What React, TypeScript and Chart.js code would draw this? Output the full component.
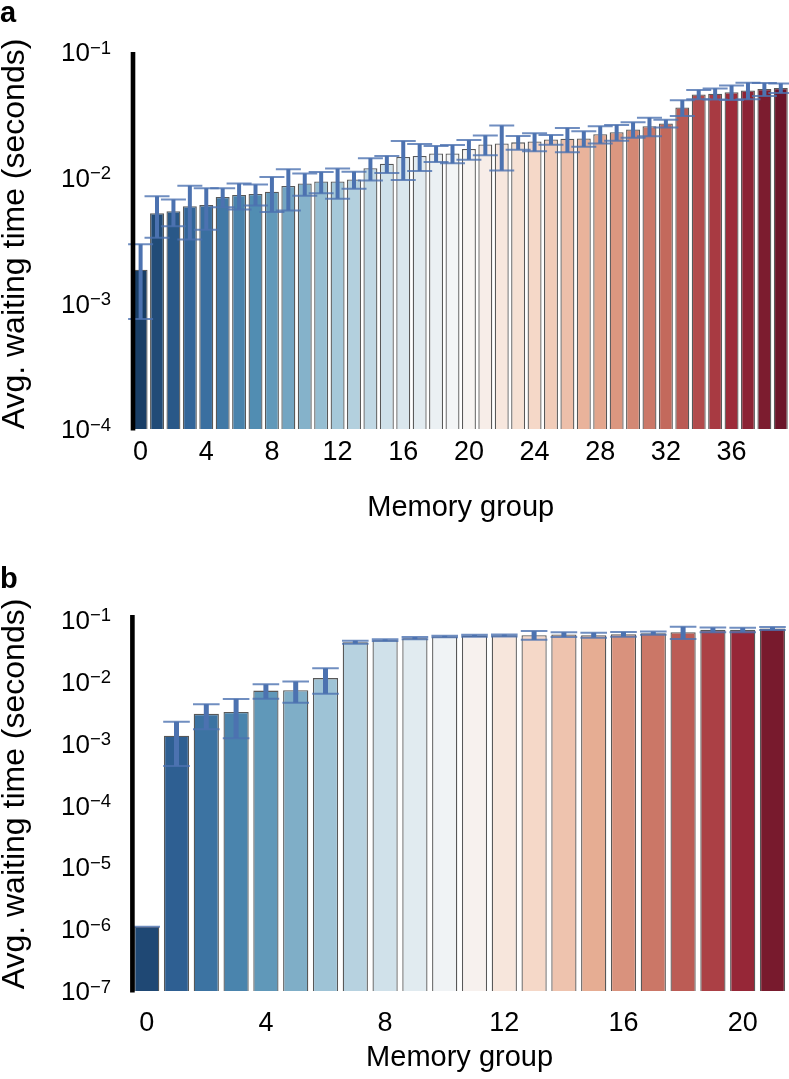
import React, { useEffect, useRef } from 'react';
import { Chart, registerables } from 'chart.js';

Chart.register(...registerables);

// ---------- Data ----------
const groupsA = ['0','1','2','3','4','5','6','7','8','9','10','11','12','13','14','15','16','17','18','19','20','21','22','23','24','25','26','27','28','29','30','31','32','33','34','35','36','37','38','39'];
const waitA = [1.85e-3, 5.22e-3, 5.40e-3, 5.92e-3, 6.05e-3, 7.02e-3, 7.28e-3, 7.41e-3, 7.74e-3, 8.59e-3, 8.98e-3, 9.31e-3, 9.31e-3, 9.66e-3, 1.19e-2, 1.29e-2, 1.46e-2, 1.49e-2, 1.56e-2, 1.56e-2, 1.69e-2, 1.84e-2, 1.87e-2, 1.91e-2, 1.94e-2, 2.01e-2, 2.04e-2, 2.05e-2, 2.22e-2, 2.30e-2, 2.42e-2, 2.57e-2, 2.70e-2, 3.62e-2, 4.60e-2, 4.66e-2, 4.78e-2, 4.95e-2, 5.07e-2, 5.17e-2];
const errA = [1.1e-3, 1.9e-3, 1.3e-3, 2.7e-3, 2.2e-3, 1.2e-3, 1.7e-3, 1.4e-3, 2.4e-3, 3.1e-3, 1.8e-3, 1.8e-3, 2.5e-3, 1.5e-3, 2.4e-3, 2.0e-3, 5.0e-3, 3.6e-3, 2.3e-3, 2.6e-3, 3.0e-3, 3.3e-3, 7.3e-3, 2.4e-3, 3.2e-3, 1.8e-3, 4.5e-3, 2.9e-3, 3.5e-3, 3.3e-3, 3.4e-3, 4.3e-3, 1.9e-3, 5.2e-3, 3.9e-3, 4.7e-3, 6.3e-3, 7.5e-3, 6.0e-3, 4.5e-3];
const yTickExpA = [-4, -3, -2, -1];

const groupsB = ['0','1','2','3','4','5','6','7','8','9','10','11','12','13','14','15','16','17','18','19','20','21'];
const waitB = [1.09e-6, 1.33e-3, 2.99e-3, 3.21e-3, 7.10e-3, 7.21e-3, 1.13e-2, 4.30e-2, 4.63e-2, 4.99e-2, 5.30e-2, 5.44e-2, 5.50e-2, 5.58e-2, 5.70e-2, 5.58e-2, 5.78e-2, 6.01e-2, 6.24e-2, 6.79e-2, 6.79e-2, 7.13e-2];
const errB = [0, 9.0e-4, 1.3e-3, 2.0e-3, 1.85e-3, 2.7e-3, 5.0e-3, 2.5e-3, 1.5e-3, 2.0e-3, 1.5e-3, 2.0e-3, 2.0e-3, 9.0e-3, 5.0e-3, 5.0e-3, 5.0e-3, 3.5e-3, 1.4e-2, 6.0e-3, 5.5e-3, 4.0e-3];
const yTickExpB = [-7, -6, -5, -4, -3, -2, -1];

const xTitle = 'Memory group';
const yTitle = 'Avg. waiting time (seconds)';

// ---------- Colours (seaborn RdBu_r, saturation 0.75) ----------
const RDBU = ['#67001f', '#b2182b', '#d6604d', '#f4a582', '#fddbc7', '#f7f7f7', '#d1e5f0', '#92c5de', '#4393c3', '#2166ac', '#053061'];

function hexToRgb(h: string) {
  return [parseInt(h.slice(1, 3), 16) / 255, parseInt(h.slice(3, 5), 16) / 255, parseInt(h.slice(5, 7), 16) / 255];
}
function rdbuR(t: number) {
  const s = 1 - t;
  const pos = s * 10;
  const i = Math.min(9, Math.floor(pos));
  const f = pos - i;
  const a = hexToRgb(RDBU[i]);
  const b = hexToRgb(RDBU[i + 1]);
  return [a[0] + (b[0] - a[0]) * f, a[1] + (b[1] - a[1]) * f, a[2] + (b[2] - a[2]) * f];
}
function desat(rgb: number[], p: number) {
  const [r, g, b] = rgb;
  const mx = Math.max(r, g, b), mn = Math.min(r, g, b);
  const l = (mx + mn) / 2;
  if (mx === mn) return rgb;
  const d = mx - mn;
  let s = l <= 0.5 ? d / (mx + mn) : d / (2 - mx - mn);
  let h: number;
  if (mx === r) h = ((g - b) / d) % 6;
  else if (mx === g) h = (b - r) / d + 2;
  else h = (r - g) / d + 4;
  h /= 6;
  if (h < 0) h += 1;
  s *= p;
  const q = l <= 0.5 ? l * (1 + s) : l + s - l * s;
  const pp = 2 * l - q;
  const hue = (t: number) => {
    if (t < 0) t += 1;
    if (t > 1) t -= 1;
    if (t < 1 / 6) return pp + (q - pp) * 6 * t;
    if (t < 1 / 2) return q;
    if (t < 2 / 3) return pp + (q - pp) * (2 / 3 - t) * 6;
    return pp;
  };
  return [hue(h + 1 / 3), hue(h), hue(h - 1 / 3)];
}
function palette(n: number) {
  const out: string[] = [];
  for (let k = 1; k <= n; k++) {
    const c = desat(rdbuR(k / (n + 1)), 0.75);
    out.push(`rgb(${Math.round(c[0] * 255)},${Math.round(c[1] * 255)},${Math.round(c[2] * 255)})`);
  }
  return out;
}

const FONT = '"Liberation Sans", Arial, Helvetica, sans-serif';

type PanelCfg = {
  letter: string;
  labels: string[];
  values: number[];
  errors: number[];
  tickExp: number[];
  yMin: number;
  yMax: number;
  height: number;
  top: number;
  areaTop: number;
  areaBottom: number;
  areaLeft: number;
  barPct: number;
  tickPad: number;
  titlePadB: number;
  capHalf: number;
  errWidth: number;
  letterBaseline: number;
  yTitleCenter: number;
};

function Panel({ cfg }: { cfg: PanelCfg }) {
  const ref = useRef<HTMLCanvasElement | null>(null);
  useEffect(() => {
    const canvas = ref.current;
    if (!canvas) return;
    const colors = palette(cfg.values.length);

    const errPlugin = {
      id: 'errbars',
      afterDatasetsDraw(chart: any) {
        const ctx = chart.ctx;
        const ys = chart.scales.y;
        const meta = chart.getDatasetMeta(0);
        ctx.save();
        cfg.values.forEach((v, i) => {
          const e = cfg.errors[i];
          const x = meta.data[i].x;
          const yTop = ys.getPixelForValue(v + e);
          const lo = v - e;
          const yBot = lo > 0 ? ys.getPixelForValue(lo) : chart.chartArea.bottom;
          ctx.strokeStyle = 'rgb(76,114,176)';
          ctx.lineWidth = cfg.errWidth;
          ctx.beginPath();
          ctx.moveTo(x, yTop);
          ctx.lineTo(x, yBot);
          ctx.stroke();
          ctx.strokeStyle = 'rgba(76,114,176,0.8)';
          ctx.lineWidth = 2;
          ctx.beginPath();
          ctx.moveTo(x - cfg.capHalf, yTop);
          ctx.lineTo(x + cfg.capHalf, yTop);
          ctx.moveTo(x - cfg.capHalf, yBot);
          ctx.lineTo(x + cfg.capHalf, yBot);
          ctx.stroke();
        });
        ctx.restore();
      },
    };

    const decoPlugin = {
      id: 'deco',
      afterDraw(chart: any) {
        const ctx = chart.ctx;
        const ys = chart.scales.y;
        const area = chart.chartArea;
        ctx.save();
        // spine
        ctx.fillStyle = '#000';
        ctx.fillRect(area.left - 1.7, area.top, 4.6, area.bottom - area.top + 1.5);
        // y tick labels with superscripts
        const right = 111;
        cfg.tickExp.forEach((ex) => {
          const y = ys.getPixelForValue(Math.pow(10, ex));
          ctx.font = `26px ${FONT}`;
          const baseW = ctx.measureText('10').width;
          ctx.font = `18.5px ${FONT}`;
          const sup = '\u2212' + String(Math.abs(ex));
          const supW = ctx.measureText(sup).width;
          ctx.fillStyle = '#000';
          ctx.textBaseline = 'alphabetic';
          ctx.textAlign = 'left';
          ctx.font = `26px ${FONT}`;
          ctx.fillText('10', right - supW - baseW, y + 9.3);
          ctx.font = `18.5px ${FONT}`;
          ctx.fillText(sup, right - supW, y + 1.5);
        });
        // y axis title
        ctx.save();
        ctx.translate(15.5, cfg.yTitleCenter);
        ctx.rotate(-Math.PI / 2);
        ctx.font = `32px ${FONT}`;
        ctx.textAlign = 'center';
        ctx.textBaseline = 'middle';
        ctx.fillText(yTitle, 0, 0);
        ctx.restore();
        // panel letter
        ctx.font = `bold 29px ${FONT}`;
        ctx.textAlign = 'left';
        ctx.textBaseline = 'alphabetic';
        ctx.fillText(cfg.letter, 0, cfg.letterBaseline);
        ctx.restore();
      },
    };

    const chart = new Chart(canvas, {
      type: 'bar',
      data: {
        labels: cfg.labels,
        datasets: [
          {
            data: cfg.values,
            backgroundColor: colors,
            borderColor: 'rgba(70,70,70,0.9)',
            borderWidth: 1.3,
            barPercentage: cfg.barPct,
            categoryPercentage: 1,
          },
        ],
      },
      options: {
        animation: false,
        responsive: false,
        maintainAspectRatio: false,
        devicePixelRatio: 1,
        layout: { padding: { top: cfg.areaTop, left: 0, right: 0, bottom: 0 } },
        plugins: { legend: { display: false }, tooltip: { enabled: false }, title: { display: false } },
        scales: {
          x: {
            type: 'category',
            offset: true,
            grid: { display: false, drawTicks: false },
            border: { display: false },
            ticks: {
              autoSkip: false,
              maxRotation: 0,
              minRotation: 0,
              padding: cfg.tickPad,
              color: '#000',
              font: { family: FONT, size: 27 },
              callback: (_v: any, i: number) => (i % 4 === 0 ? cfg.labels[i] : ''),
            },
            title: {
              display: true,
              text: xTitle,
              color: '#000',
              font: { family: FONT, size: 29 },
              padding: { top: 0, bottom: cfg.titlePadB },
            },
            afterFit: (s: any) => {
              s.height = cfg.height - cfg.areaBottom;
            },
          },
          y: {
            type: 'logarithmic',
            min: cfg.yMin,
            max: cfg.yMax,
            grid: { display: false, drawTicks: false },
            border: { display: false },
            ticks: { display: false },
            title: { display: false, text: yTitle },
            afterFit: (s: any) => {
              s.width = cfg.areaLeft;
            },
          },
        },
      } as any,
      plugins: [errPlugin, decoPlugin],
    });
    return () => chart.destroy();
  }, [cfg]);

  return (
    <canvas
      ref={ref}
      width={789}
      height={cfg.height}
      style={{ position: 'absolute', left: 0, top: cfg.top, width: 789, height: cfg.height, display: 'block' }}
    />
  );
}

const cfgA: PanelCfg = {
  letter: 'a',
  labels: groupsA,
  values: waitA,
  errors: errA,
  tickExp: yTickExpA,
  yMin: 1e-4,
  yMax: 1e-1,
  height: 540,
  top: 0,
  areaTop: 52,
  areaBottom: 429,
  areaLeft: 132.4,
  barPct: 0.85,
  tickPad: 7.5,
  titlePadB: 14.6,
  capHalf: 12.5,
  errWidth: 4,
  letterBaseline: 22,
  yTitleCenter: 234,
};

const cfgB: PanelCfg = {
  letter: 'b',
  labels: groupsB,
  values: waitB,
  errors: errB,
  tickExp: yTickExpB,
  yMin: 1e-7,
  yMax: 0.118,
  height: 539,
  top: 540,
  areaTop: 75,
  areaBottom: 451,
  areaLeft: 131.8,
  barPct: 0.846,
  tickPad: 16.5,
  titlePadB: 3.6,
  capHalf: 13.3,
  errWidth: 5,
  letterBaseline: 48,
  yTitleCenter: 254,
};

export default function App() {
  return (
    <div style={{ position: 'absolute', left: 0, top: 0, width: 789, height: 1079, background: '#fff', overflow: 'hidden' }}>
      <Panel cfg={cfgA} />
      <Panel cfg={cfgB} />
    </div>
  );
}
